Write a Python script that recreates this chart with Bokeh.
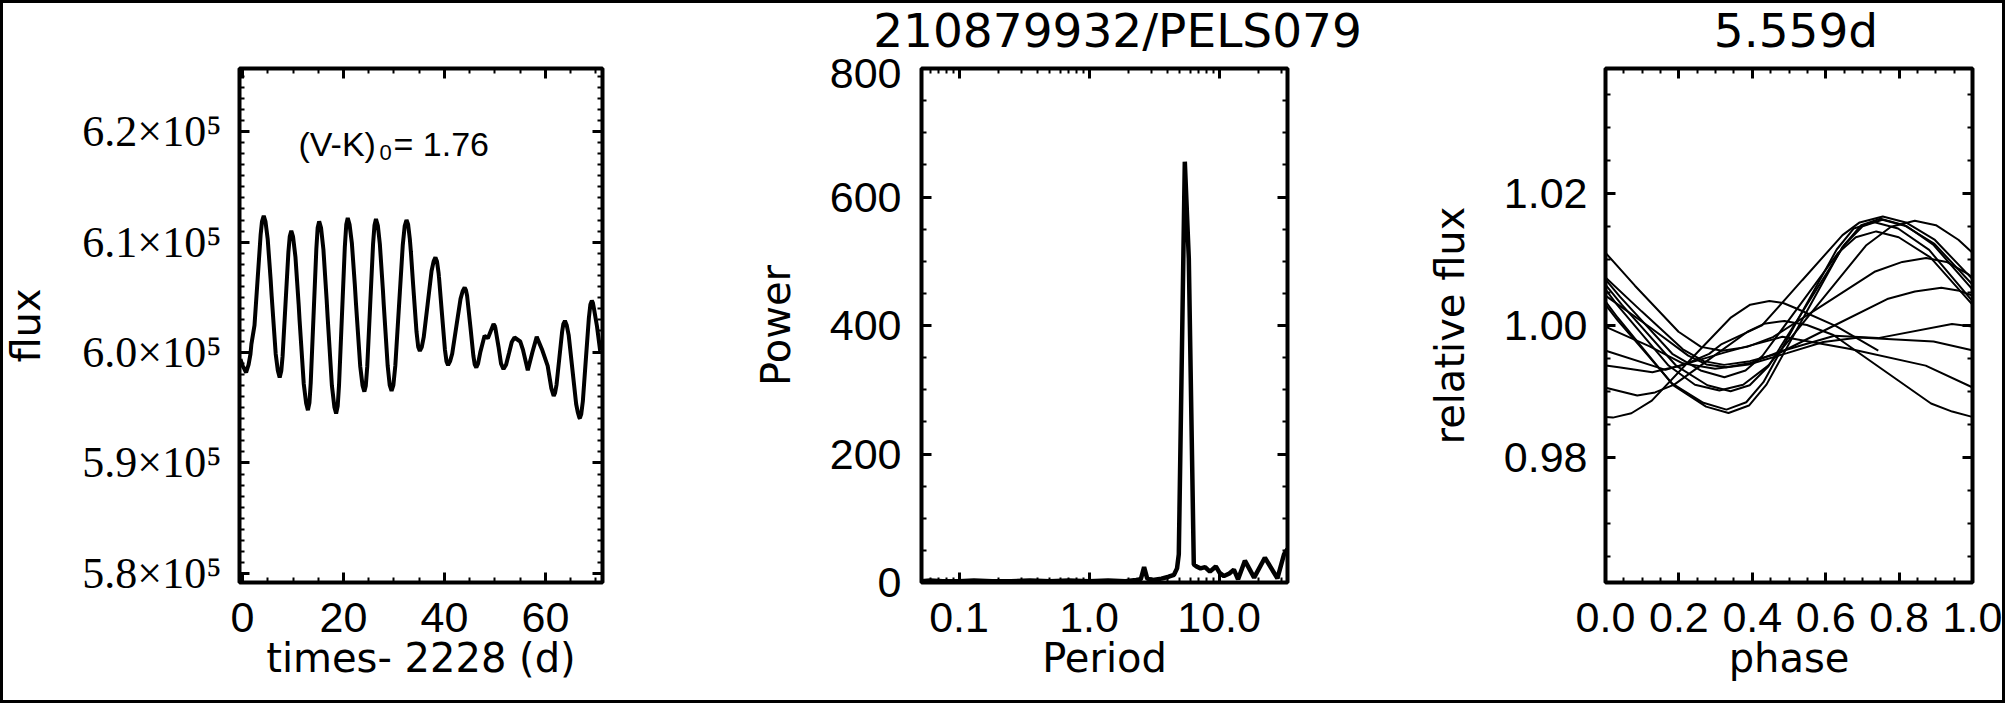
import numpy as np
from bokeh.plotting import figure
from bokeh.models import (Range1d, LinearAxis, LogAxis, Label, SingleIntervalTicker,
                          FixedTicker, PrintfTickFormatter)
from bokeh.core.properties import value
from bokeh.layouts import row, column
from bokeh.embed import file_html
from bokeh.resources import INLINE

# ---------------- data ----------------
times = [-0.41, 0.005, 0.20, 0.71, 1.20, 1.57, 1.76, 2.37, 2.98, 3.59,
         3.85, 4.20, 4.55, 4.99, 5.554, 5.564, 5.78, 6.57, 7.00, 7.36,
         7.68, 7.935, 8.51, 9.085, 9.35, 9.66, 10.00, 10.48, 11.113, 11.123,
         11.305, 12.13, 12.60, 12.95, 13.25, 13.51, 14.065, 14.62, 14.88, 15.18,
         15.55, 16.02, 16.672, 16.682, 16.86, 17.70, 18.20, 18.54, 18.85, 19.115,
         19.69, 20.265, 20.55, 20.84, 21.20, 21.66, 22.231, 22.241, 22.485, 23.31,
         23.78, 24.13, 24.42, 24.705, 25.28, 25.855, 26.13, 26.43, 26.80, 27.20,
         27.79, 27.80, 27.975, 28.75, 29.15, 29.52, 29.88, 30.26, 31.00, 31.74,
         32.12, 32.48, 32.80, 33.14, 33.349, 33.359, 33.80, 34.46, 34.80, 35.12,
         35.50, 35.89, 36.665, 37.44, 37.85, 38.21, 38.52, 38.835, 38.908, 38.918,
         39.46, 40.085, 40.40, 40.71, 41.10, 41.53, 42.355, 43.18, 43.60, 44.00,
         44.25, 44.467, 44.477, 45.15, 45.725, 46.00, 46.30, 46.65, 47.12, 47.94,
         48.60, 49.72, 50.026, 50.036, 50.70, 51.20, 51.69, 52.20, 52.78, 53.33,
         53.87, 55.00, 55.585, 55.595, 56.50, 57.40, 58.27, 59.30, 60.44, 61.144,
         61.154, 61.63, 61.90, 62.19, 62.745, 63.30, 63.55, 63.86, 64.20, 64.60,
         65.34, 66.08, 66.40, 66.703, 66.713, 66.82, 67.10, 67.41, 68.00, 68.60,
         68.90, 69.19, 69.40, 69.60, 70.20, 70.84]
flux = [599400, 598800, 598650, 598190, 598900, 599860, 600760, 602460, 606580, 610690,
        611850, 612390, 611850, 610250, 606700, 606620, 605060, 599870, 598350, 597730,
        598350, 599670, 604380, 609090, 610500, 611030, 610500, 608660, 604380, 604310,
        602900, 597150, 595400, 594780, 595450, 597280, 603330, 609380, 611300, 611880,
        611300, 609340, 604700, 604610, 603180, 597010, 595050, 594470, 595150, 597060,
        603330, 609600, 611600, 612190, 611600, 609890, 606210, 606140, 604330, 598760,
        597000, 596460, 597000, 598740, 604280, 609810, 611500, 612090, 611500, 609820,
        605770, 605690, 604310, 598800, 597050, 596530, 597050, 598790, 604270, 609740,
        611450, 612000, 611600, 610270, 609100, 609050, 606080, 601880, 600500, 600150,
        600500, 601390, 604380, 607380, 608250, 608610, 608250, 607190, 606850, 606810,
        603740, 600280, 599200, 598860, 599200, 599890, 602380, 604860, 605550, 605890,
        605650, 605180, 605150, 602270, 599700, 598900, 598640, 599000, 600080, 601510,
        601300, 602580, 602350, 602320, 600540, 599000, 598500, 598900, 599930, 600950,
        601360, 601000, 600200, 600150, 598400, 600000, 601420, 600300, 598790, 596820,
        596780, 596070, 596350, 597060, 599470, 601880, 602600, 602870, 602500, 601580,
        598460, 595340, 594600, 594120, 594100, 594050, 594450, 595600, 599370, 603140,
        604350, 604690, 604500, 604000, 602400, 600150]

periods = [0.0514, 0.06, 0.075, 0.1, 0.13, 0.18, 0.25, 0.35, 0.5, 0.7,
           1.0, 1.4, 1.9, 2.3, 2.5, 2.65, 2.8, 3.1, 3.6, 4.1,
           4.5, 4.75, 4.9, 5.45, 5.85, 6.39, 6.7, 7.2, 7.8, 8.5,
           9.44, 10.1, 10.9, 12.0, 13.0, 14.0, 15.8, 18.6, 22.5, 28.1,
           31.6, 33.6]
power = [2, 3, 2, 2, 3, 2, 2, 3, 2, 3,
         2, 3, 2, 4, 5, 24, 6, 4, 6, 9,
         12, 22, 44, 655, 504, 28, 25, 22, 24, 17,
         25, 15, 10, 14, 20, 5, 34, 7.5, 38.6, 6.5,
         44, 52]

PERIOD = 5.559          # best period (d)
NORM = 602450.0         # flux normalisation for the folded curve

star_name = "210879932/PELS079"
period_title = "5.559d"

flux_tick_vals = [580000, 590000, 600000, 610000, 620000]
flux_tick_labs = ["5.8\u00d710\u2075", "5.9\u00d710\u2075", "6.0\u00d710\u2075",
                  "6.1\u00d710\u2075", "6.2\u00d710\u2075"]

assert len(times) == len(flux) and len(periods) == len(power)

# ---------------- layout constants ----------------
TW, TH = 2005, 58          # title strip
H = 703 - TH
TOP, BOT = 68 - TH, 121
X1 = (-0.6, 71.3)
Y1 = (579175, 625721)
X2 = (0.0514, 33.6)
Y2 = (0, 800)
X3 = (0.0, 1.0)
Y3 = (0.9611, 1.0389)

TICK_FONT = "Liberation Sans"
TITLE_FONT = "DejaVu Sans"


def base_fig(width, left, right, xr, yr, xtype="linear"):
    p = figure(width=width, height=H, x_range=Range1d(*xr), y_range=Range1d(*yr),
               x_axis_type=xtype, output_backend="svg", toolbar_location=None,
               min_border_left=left, min_border_right=right,
               min_border_top=TOP, min_border_bottom=BOT)
    p.title.visible = False
    p.xgrid.visible = False
    p.ygrid.visible = False
    p.outline_line_color = "black"
    p.outline_line_width = 4
    p.outline_line_alpha = 1.0
    p.background_fill_color = "white"
    p.border_fill_color = None
    return p


def style_axis(ax, standoff=20, font=TICK_FONT, size="43px"):
    ax.axis_line_color = None
    ax.major_tick_in = 10
    ax.major_tick_out = 0
    ax.minor_tick_in = 5
    ax.minor_tick_out = 0
    ax.major_tick_line_width = 3
    ax.minor_tick_line_width = 2
    ax.major_tick_line_color = "black"
    ax.minor_tick_line_color = "black"
    ax.major_label_text_font = font
    ax.major_label_text_color = "black"
    ax.major_label_text_font_size = size
    ax.major_label_standoff = standoff
    ax.axis_label_text_font = TITLE_FONT
    ax.axis_label_text_font_size = "40px"
    ax.axis_label_text_font_style = "normal"
    ax.axis_label_text_color = "black"


def add_mirrors(p, xticker, yticker, log_x=False):
    top = LogAxis(ticker=xticker) if log_x else LinearAxis(ticker=xticker)
    right = LinearAxis(ticker=yticker)
    for ax in (top, right):
        style_axis(ax, standoff=0, size="7px")
        ax.major_label_text_color = None
    p.add_layout(top, "above")
    p.add_layout(right, "right")


def lab(p, x, y, text, xo=0, yo=0, size="34px", font=TICK_FONT, align="left"):
    p.add_layout(Label(x=x, y=y, text=text, x_offset=xo, y_offset=yo,
                       text_font=font, text_font_size=size, text_align=align,
                       text_baseline="alphabetic", text_color="black"))


# ---------------- panel 1: light curve ----------------
p1 = base_fig(660, 237, 58, X1, Y1)
xt1 = SingleIntervalTicker(interval=20, num_minor_ticks=4)
yt1 = SingleIntervalTicker(interval=10000, num_minor_ticks=10)
p1.xaxis[0].ticker = xt1
p1.yaxis[0].ticker = yt1
style_axis(p1.xaxis[0], standoff=20)
style_axis(p1.yaxis[0], standoff=18, font="Liberation Serif", size="44px")
p1.yaxis[0].major_label_overrides = dict(zip(flux_tick_vals, flux_tick_labs))
p1.xaxis[0].axis_label = "times- 2228 (d)"
p1.xaxis[0].axis_label_standoff = 0
p1.yaxis[0].axis_label = "flux"
p1.yaxis[0].axis_label_standoff = 30
add_mirrors(p1, xt1, yt1)
p1.line(times, flux, line_color="black", line_width=4)

lab(p1, X1[0], Y1[1], "(V-K)", xo=59, yo=-75)
lab(p1, X1[0], Y1[1], "0", xo=140, yo=-84, size="22px")
lab(p1, X1[0], Y1[1], "= 1.76", xo=154, yo=-75)

# ---------------- panel 2: periodogram ----------------
p2 = base_fig(684, 261, 57, X2, Y2, xtype="log")
minors2 = [m * 10.0 ** e for e in (-2, -1, 0, 1) for m in range(2, 10)]
xt2 = FixedTicker(ticks=[0.1, 1.0, 10.0], minor_ticks=minors2)
yt2 = SingleIntervalTicker(interval=200, num_minor_ticks=4)
p2.xaxis[0].ticker = xt2
p2.xaxis[0].formatter = PrintfTickFormatter(format="%.1f")
p2.yaxis[0].ticker = yt2
style_axis(p2.xaxis[0], standoff=20)
style_axis(p2.yaxis[0], standoff=20)
p2.xaxis[0].axis_label = "Period"
p2.xaxis[0].axis_label_standoff = 0
p2.yaxis[0].axis_label = "Power"
p2.yaxis[0].axis_label_standoff = 28
add_mirrors(p2, xt2, yt2, log_x=True)
p2.line(periods, power, line_color="black", line_width=4.5)

# ---------------- panel 3: phase-folded curve ----------------
p3 = base_fig(661, 261, 33, X3, Y3)
xt3 = SingleIntervalTicker(interval=0.2, num_minor_ticks=4)
yt3 = SingleIntervalTicker(interval=0.02, num_minor_ticks=4)
p3.xaxis[0].ticker = xt3
p3.xaxis[0].formatter = PrintfTickFormatter(format="%.1f")
p3.yaxis[0].ticker = yt3
p3.yaxis[0].formatter = PrintfTickFormatter(format="%.2f")
style_axis(p3.xaxis[0], standoff=20)
style_axis(p3.yaxis[0], standoff=18)
p3.xaxis[0].axis_label = "phase"
p3.xaxis[0].axis_label_standoff = 0
p3.yaxis[0].axis_label = "relative flux"
p3.yaxis[0].axis_label_standoff = 28
add_mirrors(p3, xt3, yt3)

t_arr = np.array(times, dtype=float)
f_arr = np.array(flux, dtype=float)
cyc = np.floor(t_arr / PERIOD).astype(int)
phase = t_arr / PERIOD - cyc
rel = f_arr / NORM
for c in np.unique(cyc):
    m = cyc == c
    if m.sum() < 2:
        continue
    p3.line(phase[m], rel[m], line_color="black", line_width=2)

# ---------------- title strip (page pixel coordinates) ----------------
tfig = figure(width=TW, height=TH, x_range=Range1d(0, TW), y_range=Range1d(TH, 0),
              output_backend="svg", toolbar_location=None, min_border=0,
              x_axis_location=None, y_axis_location=None)
tfig.title.visible = False
tfig.xgrid.visible = False
tfig.ygrid.visible = False
tfig.outline_line_color = None
tfig.background_fill_color = None
tfig.border_fill_color = None
frame2_mid = 660 + 261 + 366 / 2
frame3_mid = 660 + 684 + 261 + 367 / 2
title_y = 29.5   # text anchor inside the strip (renders with baseline near y=45)
tfig.text(x=[frame2_mid + 13, frame3_mid + 7], y=[title_y, title_y],
          text=[star_name, period_title],
          text_font=value(TITLE_FONT), text_font_size="47px", text_align="center",
          text_baseline="alphabetic", text_color="black")

layout = column(tfig, row(p1, p2, p3),
                styles={"outline": "3px solid black", "outline-offset": "-3px"})

open("out.html", "w").write(file_html(layout, INLINE))
